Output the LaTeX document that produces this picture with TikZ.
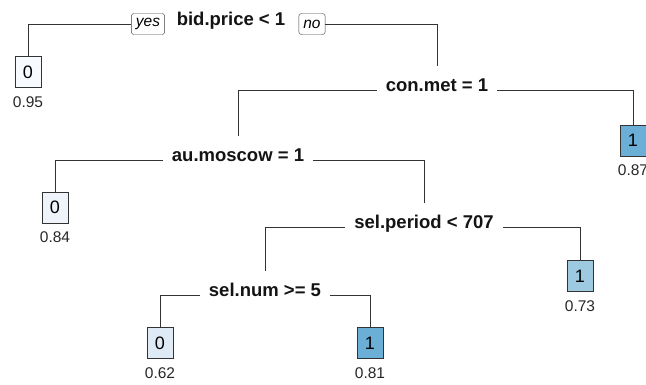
\documentclass[tikz,border=0pt]{standalone}
\usepackage{fontspec}
\setmainfont{Liberation Sans}
\usetikzlibrary{positioning}
\definecolor{bluea}{HTML}{F7FBFF}
\definecolor{blueb}{HTML}{EFF4FB}
\definecolor{bluec}{HTML}{DEEBF7}
\definecolor{blued}{HTML}{9ECAE1}
\definecolor{bluee}{HTML}{6BAED6}
\begin{document}
\begin{tikzpicture}[x=1pt, y=-1pt]
\tikzstyle{split} = [font=\fontsize{18.5}{20}\selectfont\bfseries, text=black!92, text height=12pt, text depth=10pt, inner xsep=9pt, inner ysep=13pt]
\tikzstyle{leaf} = [draw=black!80, line width=1pt, minimum width=26pt, minimum height=31pt, inner sep=0pt, font=\fontsize{18}{20}\selectfont]
\tikzstyle{prob} = [font=\fontsize{15.5}{18}\selectfont, text=black!85, inner sep=1pt]
\tikzstyle{yn} = [draw=black!75, rounded corners=2.5pt, font=\fontsize{15.5}{17}\selectfont\itshape, minimum height=21pt, inner xsep=4.5pt, inner ysep=0pt]
\tikzstyle{e} = [draw=black!80, line width=0.9pt]

\useasboundingbox (0,0) rectangle (646,384);

\node[split] (bid) at (231, 24) {bid.price < 1};
\node[yn] (yes) at (148, 24) {yes};
\node[yn] (no) at (312, 24) {no};
\node[split] (con) at (437, 90) {con.met = 1};
\node[split] (aum) at (238, 160) {au.moscow = 1};
\node[split] (sper) at (424, 227) {sel.period < 707};
\node[split] (snum) at (265, 295) {sel.num >= 5};

\node[leaf, fill=bluea] (l95) at (28, 72) {0};
\node[leaf, fill=bluee] (l87) at (633, 140.5) {1};
\node[leaf, fill=blueb] (l84) at (55, 207.5) {0};
\node[leaf, fill=blued] (l73) at (580, 276) {1};
\node[leaf, fill=bluec] (l62) at (160, 343) {0};
\node[leaf, fill=bluee] (l81) at (370, 343) {1};

\node[prob, below=7pt of l95] (p95) {0.95};
\node[prob, below=7pt of l87] (p87) {0.87};
\node[prob, below=7pt of l84] (p84) {0.84};
\node[prob, below=7pt of l73] (p73) {0.73};
\node[prob, below=7pt of l62] (p62) {0.62};
\node[prob, below=7pt of l81] (p81) {0.81};

\draw[e] (yes.west) -| (l95.north);
\draw[e] (no.east) -| (con.north);
\draw[e] (con.west) -| (aum.north);
\draw[e] (con.east) -| (l87.north);
\draw[e] (aum.west) -| (l84.north);
\draw[e] (aum.east) -| (sper.north);
\draw[e] (sper.west) -| (snum.north);
\draw[e] (sper.east) -| (l73.north);
\draw[e] (snum.west) -| (l62.north);
\draw[e] (snum.east) -| (l81.north);
\end{tikzpicture}
\end{document}
